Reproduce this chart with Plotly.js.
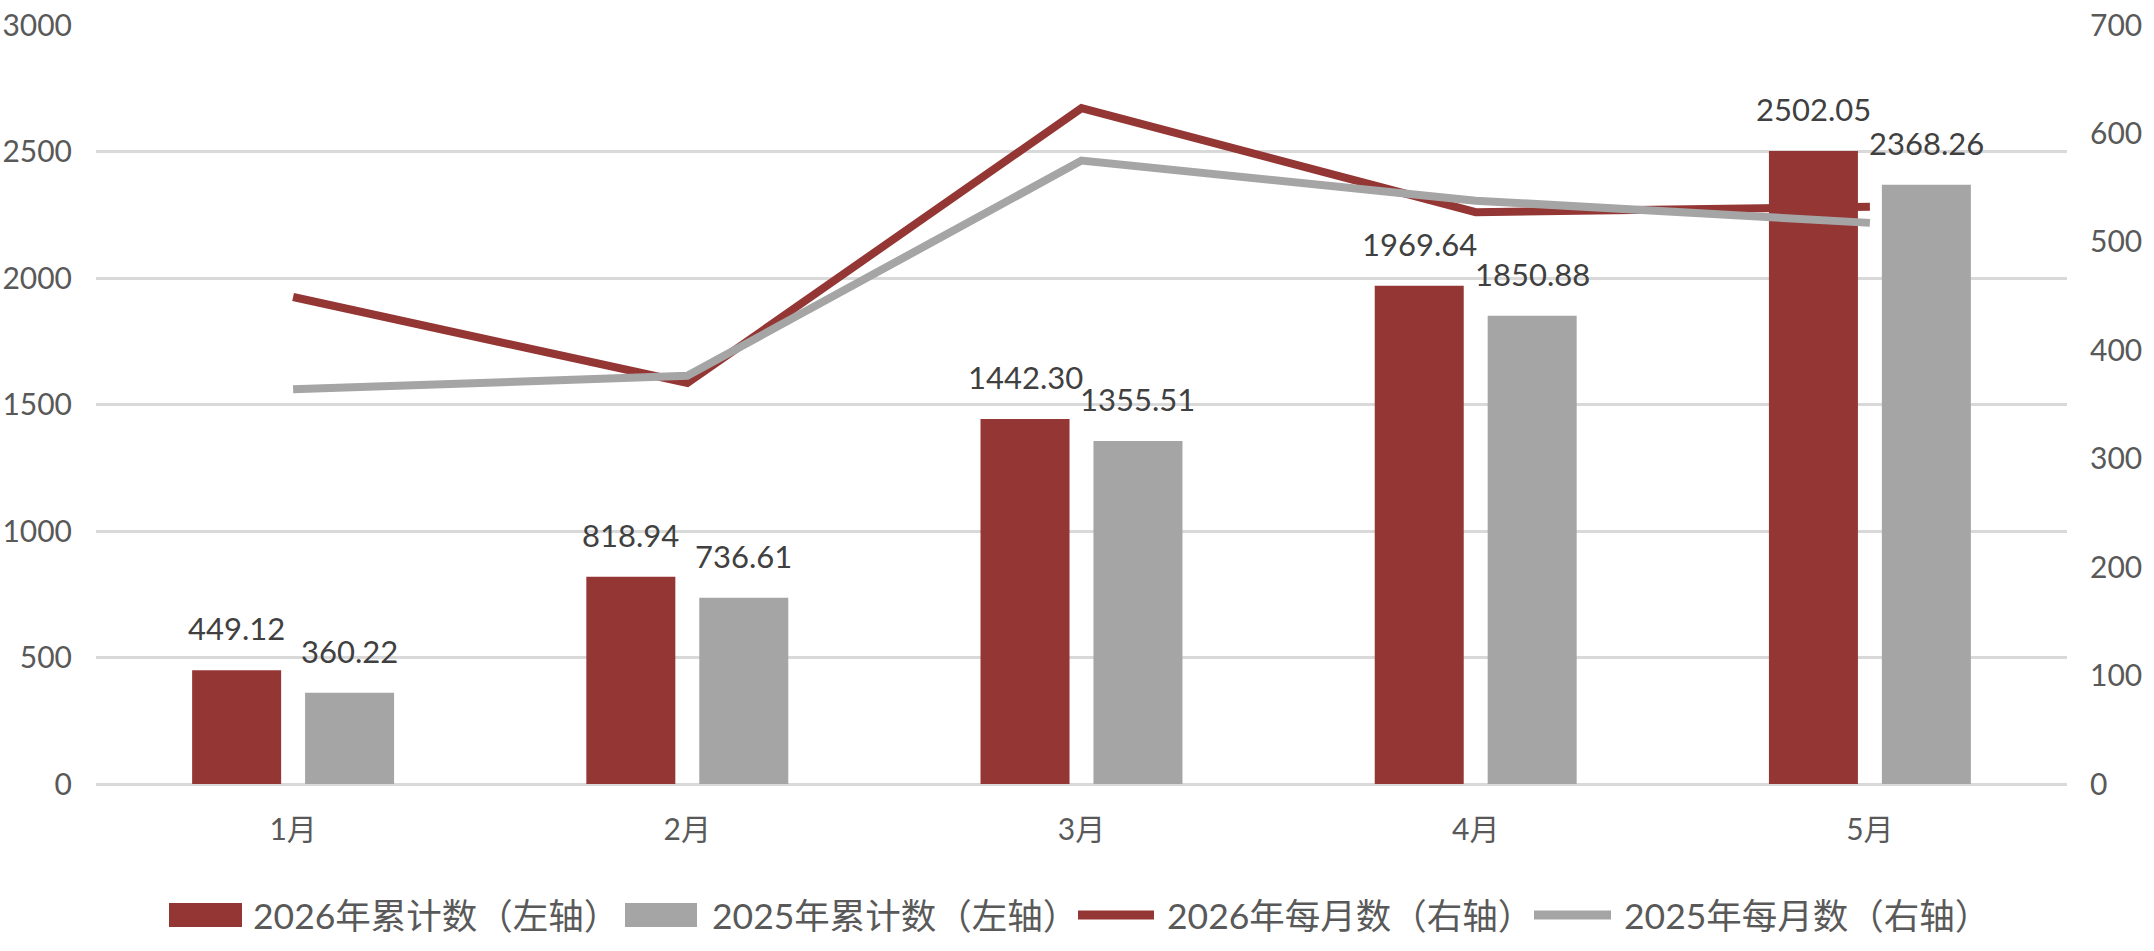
<!DOCTYPE html>
<html>
<head>
<meta charset="utf-8">
<script src="https://cdn.plot.ly/plotly-3.0.1.min.js"></script>
<style>
  html, body { margin: 0; padding: 0; background: #ffffff; }
  #chart { width: 2154px; height: 951px; }
</style>
</head>
<body>
<div id="chart"></div>
<script>
// ---- data ----
const months = ["1月", "2月", "3月", "4月", "5月"];
const cum2026 = [449.12, 818.94, 1442.30, 1969.64, 2502.05];
const cum2025 = [360.22, 736.61, 1355.51, 1850.88, 2368.26];
const monthly2026 = [449.12, 369.82, 623.36, 527.34, 532.41];
const monthly2025 = [364, 376.4, 575, 538, 517.5];
const seriesNames = ["2026年累计数（左轴）", "2025年累计数（左轴）", "2026年每月数（右轴）", "2025年每月数（右轴）"];

// ---- style ----
const RED = "#943634";
const GRAY = "#A5A5A5";
const GRID = "#D9D9D9";
const TICK = "#595959";
const LABEL = "#404040";
const FONT = "Lato, 'Noto Sans CJK SC', sans-serif";

const W = 2154, H = 951;
const M = { l: 96, r: 87, t: 25, b: 167 };
const PW = W - M.l - M.r, PH = H - M.t - M.b;
const px2x = p => (p - M.l) / PW;
const py2y = p => (H - M.b - p) / PH;

const BARGAP = 0.427, GROUPGAP = 0.212;
const slot = (1 - BARGAP) / 2;
const off = slot / 2;

const traces = [
  { type: "bar", name: seriesNames[0], x: months, y: cum2026, marker: { color: RED }, yaxis: "y", hoverinfo: "x+y" },
  { type: "bar", name: seriesNames[1], x: months, y: cum2025, marker: { color: GRAY }, yaxis: "y", hoverinfo: "x+y" },
  { type: "scatter", mode: "lines", name: seriesNames[2], x: months, y: monthly2026, yaxis: "y2",
    line: { color: RED, width: 8 } },
  { type: "scatter", mode: "lines", name: seriesNames[3], x: months, y: monthly2025, yaxis: "y2",
    line: { color: GRAY, width: 8 } }
];

const annotations = [];
months.forEach((m, i) => {
  annotations.push({ xref: "x", yref: "y", x: i - off, y: cum2026[i], text: cum2026[i].toFixed(2),
    showarrow: false, xanchor: "center", yanchor: "bottom", yshift: 21,
    font: { family: FONT, size: 31, color: LABEL } });
  annotations.push({ xref: "x", yref: "y", x: i + off, y: cum2025[i], text: cum2025[i].toFixed(2),
    showarrow: false, xanchor: "center", yanchor: "bottom", yshift: 21,
    font: { family: FONT, size: 31, color: LABEL } });
});

// custom legend
const legY = 915;
const legend = [
  { kind: "rect", x0: 169, x1: 242, tx: 251, color: RED },
  { kind: "rect", x0: 625, x1: 697, tx: 710, color: GRAY },
  { kind: "line", x0: 1078, x1: 1154, tx: 1165, color: RED },
  { kind: "line", x0: 1534, x1: 1611, tx: 1622, color: GRAY }
];
const shapes = [];
legend.forEach((it, k) => {
  if (it.kind === "rect") {
    shapes.push({ type: "rect", xref: "paper", yref: "paper",
      x0: px2x(it.x0), x1: px2x(it.x1), y0: py2y(legY + 12), y1: py2y(legY - 12),
      fillcolor: it.color, line: { width: 0 } });
  } else {
    shapes.push({ type: "line", xref: "paper", yref: "paper",
      x0: px2x(it.x0), x1: px2x(it.x1), y0: py2y(legY), y1: py2y(legY),
      line: { color: it.color, width: 9 } });
  }
  annotations.push({ xref: "paper", yref: "paper", x: px2x(it.tx), y: py2y(legY),
    text: seriesNames[k], showarrow: false, xanchor: "left", yanchor: "middle",
    font: { family: FONT, size: 35.5, color: TICK } });
});

const layout = {
  width: W, height: H,
  margin: M,
  paper_bgcolor: "#ffffff", plot_bgcolor: "#ffffff",
  font: { family: FONT, size: 30, color: TICK },
  showlegend: false,
  barmode: "group", bargap: BARGAP, bargroupgap: GROUPGAP,
  xaxis: { type: "category", showgrid: false, zeroline: false, showline: false, ticks: "",
    tickfont: { family: FONT, size: 30, color: TICK }, ticklabelstandoff: 25 },
  yaxis: { range: [0, 3000], dtick: 500, tick0: 0, showgrid: true, gridcolor: GRID, gridwidth: 3,
    zeroline: true, zerolinecolor: GRID, zerolinewidth: 3, showline: false, ticks: "",
    tickfont: { family: FONT, size: 30, color: TICK }, ticklabelstandoff: 23 },
  yaxis2: { range: [0, 700], dtick: 100, tick0: 0, overlaying: "y", side: "right",
    showgrid: false, zeroline: false, showline: false, ticks: "",
    tickfont: { family: FONT, size: 30, color: TICK }, ticklabelstandoff: 22 },
  annotations: annotations,
  shapes: shapes
};

Plotly.newPlot("chart", traces, layout, { displayModeBar: false, staticPlot: true });
</script>
</body>
</html>
